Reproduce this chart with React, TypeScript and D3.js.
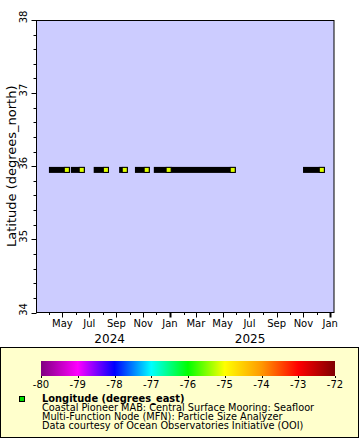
import React from "react";
import * as d3 from "d3";

// ---- data ----
const segmentStarts = ["2024-04-07", "2024-05-27", "2024-07-18", "2024-09-14", "2024-10-20", "2024-12-02", "2025-01-11", "2025-11-07"];
const segmentEnds = ["2024-05-11", "2024-06-14", "2024-08-08", "2024-09-20", "2024-11-09", "2024-12-29", "2025-05-24", "2025-12-13"];
const segmentLatitudes = [35.95, 35.95, 35.95, 35.95, 35.95, 35.95, 35.95, 35.95];
const segmentLongitudes = [-75.12, -75.12, -75.12, -75.12, -75.12, -75.12, -75.12, -75.12];

const latTicks = [34, 35, 36, 37, 38];
const colorTicks = [-80, -79, -78, -77, -76, -75, -74, -73, -72];
const paletteColors = ["#800080", "#ff00ff", "#0000ff", "#00ffff", "#00ff00", "#ffff00", "#ff9900", "#ff0000", "#800000"];
const monthNames = ["Jan", "Feb", "Mar", "Apr", "May", "Jun", "Jul", "Aug", "Sep", "Oct", "Nov", "Dec"];
const timeDomain = ["2024-03-04", "2026-01-12"];
const latDomain = [34, 38];
const yTitle = "Latitude (degrees_north)";
const legendTitle = "Longitude (degrees_east)";
const legendLines = [
  "Coastal Pioneer MAB: Central Surface Mooring: Seafloor",
  "Multi-Function Node (MFN): Particle Size Analyzer",
  "Data courtesy of Ocean Observatories Initiative (OOI)",
];

const FONT = "DejaVu Sans";

export default function App() {
  const W = 360;
  const H = 440;
  const pL = 37, pR = 335, pT = 20, pB = 312.5;

  const parse = (s: string) => new Date(s + "T00:00:00Z");
  const x = d3.scaleUtc().domain(timeDomain.map(parse)).range([pL, pR]);
  const y = d3.scaleLinear().domain(latDomain).range([pB, pT]);
  const cbL = 41, cbR = 335, cbT = 361, cbB = 376;
  const cx = d3.scaleLinear().domain([colorTicks[0], colorTicks[colorTicks.length - 1]]).range([cbL, cbR]);
  const color = d3.scaleLinear<string>().domain(colorTicks).range(paletteColors).interpolate(d3.interpolateRgb);

  const months = d3.utcMonth.range(x.domain()[0], x.domain()[1]);
  const minorLat = d3.range(latDomain[0], latDomain[1] + 0.001, 0.2).map((v) => Math.round(v * 10) / 10);

  // year label positions: centre between first visible month tick of the year and next Jan
  const years = Array.from(new Set(months.map((m) => m.getUTCFullYear())));
  const yearLabels = years
    .map((yr) => {
      const inYear = months.filter((m) => m.getUTCFullYear() === yr);
      const first = inYear[0];
      const nextJan = new Date(Date.UTC(yr + 1, 0, 1));
      return { yr, xPos: (x(first) + x(nextJan)) / 2 };
    })
    .filter((d) => d.xPos < pR);

  const ySeg = (i: number) => y(segmentLatitudes[i]);

  return (
    <svg width={W} height={H} style={{ position: "absolute", left: 0, top: 0 }} fontFamily={FONT}>
      <defs>
        <linearGradient id="cb" x1="0" x2="1" y1="0" y2="0">
          {paletteColors.map((c, i) => (
            <stop key={i} offset={`${(i / (paletteColors.length - 1)) * 100}%`} stopColor={c} />
          ))}
        </linearGradient>
        <clipPath id="plotclip">
          <rect x={pL} y={pT} width={pR - pL} height={pB - pT} />
        </clipPath>
      </defs>
      <rect x={0} y={0} width={W} height={H} fill="#ffffff" />
      {/* plot area */}
      <rect x={pL - 0.5} y={pT + 0.5} width={pR - pL - 0.5} height={pB - pT - 0.5} fill="#ccccff" stroke="none" />

      {/* data bars */}
      <g clipPath="url(#plotclip)">
        {segmentStarts.map((s, i) => {
          const x0 = x(parse(s)) - 3;
          const x1 = x(parse(segmentEnds[i])) + 3;
          return <rect key={"b" + i} x={x0} y={ySeg(i) - 3} width={x1 - x0} height={6} fill="#000" />;
        })}
        {segmentEnds.map((e, i) => {
          const c = x(parse(e));
          return (
            <g key={"m" + i}>
              <rect x={c - 3} y={ySeg(i) - 3} width={6} height={6} fill="#000" />
              <rect x={c - 2} y={ySeg(i) - 2} width={4} height={4} fill={color(segmentLongitudes[i])} />
            </g>
          );
        })}
      </g>

      {/* frame */}
      <rect x={pL - 0.5} y={pT + 0.5} width={pR - pL - 0.5} height={pB - pT - 0.5} fill="none" stroke="#000" strokeWidth={1} />

      {/* y axis ticks */}
      {minorLat.map((v, i) => {
        const major = Math.abs(v - Math.round(v)) < 1e-6;
        const yy = Math.round(y(v)) + 0.5;
        return <line key={"yt" + i} x1={pL - 0.5} x2={pL - 0.5 - (major ? 5 : 3)} y1={yy} y2={yy} stroke="#000" />;
      })}
      {latTicks.map((v) => (
        <text
          key={"yl" + v}
          transform={`translate(${pL - 10},${y(v) - 3}) rotate(-90)`}
          textAnchor="middle"
          fontSize={10}
          fill="#000"
        >
          {v}
        </text>
      ))}
      <text transform={`translate(16,${(pT + pB) / 2}) rotate(-90)`} textAnchor="middle" fontSize={13} fill="#000">
        {yTitle}
      </text>

      {/* x axis ticks */}
      {months.map((m, i) => {
        const mo = m.getUTCMonth();
        const labeled = mo % 2 === 0;
        const xx = Math.round(x(m)) + 0.5;
        return (
          <g key={"xt" + i}>
            <line x1={xx} x2={xx} y1={pB} y2={pB + (labeled ? 5 : 2.5)} stroke="#000" strokeWidth={mo === 0 ? 2 : 1} />
            {labeled && (
              <text x={x(m)} y={327} textAnchor="middle" fontSize={10} fill="#000">
                {monthNames[mo]}
              </text>
            )}
          </g>
        );
      })}
      {yearLabels.map((d) => (
        <text key={"yr" + d.yr} x={d.xPos} y={342.5} textAnchor="middle" fontSize={12} fill="#000">
          {d.yr}
        </text>
      ))}

      {/* legend box */}
      <rect x={0.5} y={347.5} width={358} height={90} fill="#ffffcc" stroke="#000" />
      <rect x={cbL} y={cbT} width={cbR - cbL} height={cbB - cbT} fill="url(#cb)" />
      {colorTicks.map((v) => (
        <g key={"ct" + v}>
          <line x1={Math.round(cx(v)) + 0.5} x2={Math.round(cx(v)) + 0.5} y1={cbB} y2={cbB + 2} stroke="#000" />
          <text x={cx(v)} y={388} textAnchor="middle" fontSize={10} fill="#000">
            {v}
          </text>
        </g>
      ))}
      <rect x={19.5} y={396.5} width={5} height={5} fill="#00dd00" stroke="#000" />
      <text x={42} y={402} fontSize={9.9} fontWeight="bold" fill="#000">
        {legendTitle}
      </text>
      {legendLines.map((t, i) => (
        <text key={"ll" + i} x={42} y={411 + i * 8.8} fontSize={9.75} fill="#000">
          {t}
        </text>
      ))}
    </svg>
  );
}
